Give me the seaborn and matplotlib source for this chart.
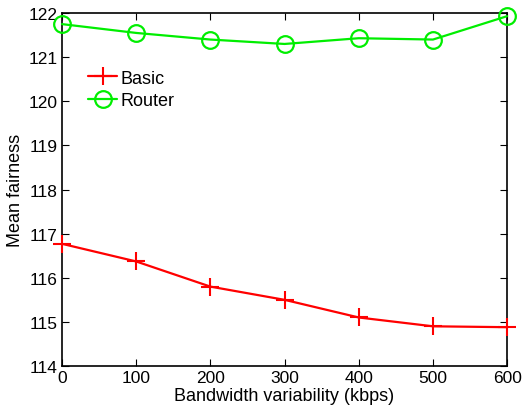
import pandas as pd
import numpy as np
import matplotlib
matplotlib.use('Agg')
import matplotlib.pyplot as plt
import seaborn as sns

# datos
variabilidad = [0, 100, 200, 300, 400, 500, 600]
basic = [116.77, 116.37, 115.80, 115.50, 115.10, 114.90, 114.88]
router = [121.75, 121.55, 121.40, 121.30, 121.43, 121.40, 121.93]

df = pd.DataFrame({'bw': variabilidad, 'Basic': basic, 'Router': router})

sns.set_style("ticks")
plt.rcParams['font.family'] = ['Liberation Sans', 'DejaVu Sans']
plt.rcParams['xtick.direction'] = 'in'
plt.rcParams['ytick.direction'] = 'in'
plt.rcParams['text.color'] = 'black'
plt.rcParams['axes.labelcolor'] = 'black'
plt.rcParams['xtick.color'] = 'black'
plt.rcParams['ytick.color'] = 'black'
plt.rcParams['axes.edgecolor'] = 'black'

fig = plt.figure(figsize=(5.25, 4.14), dpi=100)
ax = fig.add_axes([0.118, 0.1135, 0.848, 0.8525])

sns.lineplot(data=df, x='bw', y='Basic', ax=ax, color='#ff0000', marker='+',
             markersize=13, markeredgewidth=1.5, markeredgecolor='#ff0000',
             linewidth=1.6, label='Basic', clip_on=False, zorder=3)
sns.lineplot(data=df, x='bw', y='Router', ax=ax, color='#00ee00', marker='o',
             markersize=12, markerfacecolor='none', markeredgecolor='#00ee00',
             markeredgewidth=1.6, linewidth=1.6, label='Router', clip_on=False, zorder=3)

ax.set_xlim(0, 600)
ax.set_ylim(114, 122)
ax.set_xticks(range(0, 601, 100))
ax.set_yticks(range(114, 123, 1))
ax.tick_params(axis='both', labelsize=12.5, top=True, right=True, length=5, width=0.8, pad=3)
for s in ax.spines.values():
    s.set_linewidth(1.2)

ax.set_xlabel('Bandwidth variability (kbps)', fontsize=13, labelpad=1)
ax.set_ylabel('Mean fairness', fontsize=13, labelpad=3)

ax.legend(loc='upper left', bbox_to_anchor=(0.035, 0.87), frameon=False, fontsize=13,
          handlelength=1.6, handletextpad=0.2, borderaxespad=0.2, labelspacing=0.3)

fig.savefig('out.png', dpi=100)
